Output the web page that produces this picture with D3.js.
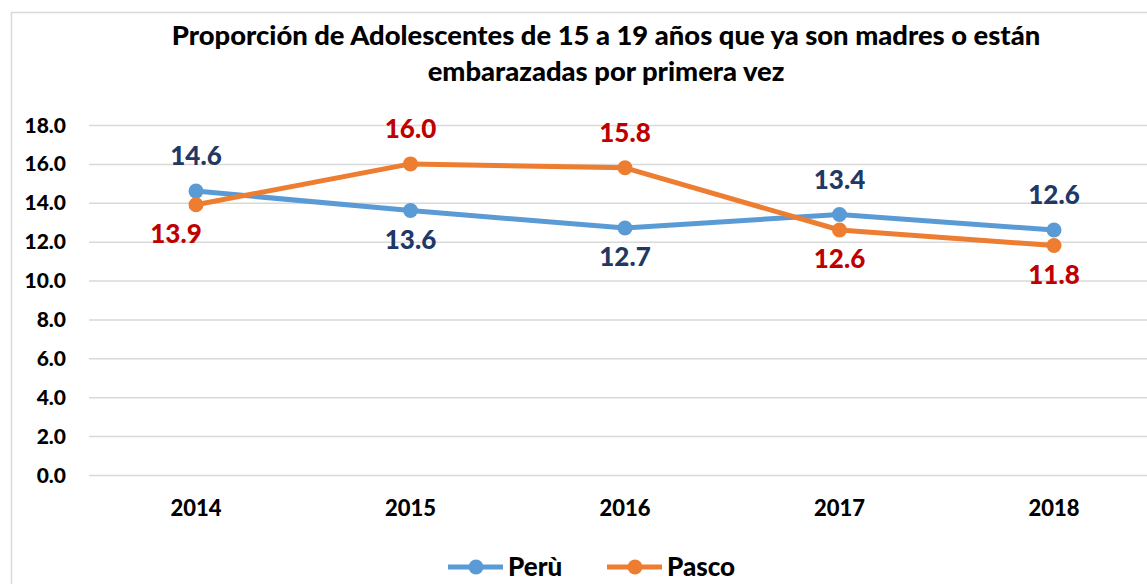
<!DOCTYPE html>
<html>
<head>
<meta charset="utf-8">
<script src="https://cdn.jsdelivr.net/npm/d3@7"></script>
<style>
  body { margin: 0; background: #fff; }
  svg { font-family: Lato, "Open Sans", sans-serif; font-weight: 900; }
  .grid line { stroke: #d9d9d9; stroke-width: 1.5; }
  .grid path { display: none; }
</style>
</head>
<body>
<div id="chart"></div>
<script>
///// Data
let years = ["2014", "2015", "2016", "2017", "2018"];
let peru = [14.6, 13.6, 12.7, 13.4, 12.6];
let pasco = [13.9, 16.0, 15.8, 12.6, 11.8];
let yTicks = [0, 2, 4, 6, 8, 10, 12, 14, 16, 18];
// where each value label sits relative to its point
let peruLabelSide = ["above", "below", "below", "above", "above"];
let pascoLabelSide = ["below", "above", "above", "below", "below"];
let titleLines = [
    "Proporción de Adolescentes de 15 a 19 años que ya son madres o están",
    "embarazadas por primera vez"
];

let width = 1147, height = 584;
let margin = { top: 125, left: 89, bottom: 109 };

let svg = d3.select("#chart").append("svg")
    .attr("width", width)
    .attr("height", height);

// chart border
svg.append("rect")
    .attr("x", 11.5).attr("y", 12.5)
    .attr("width", 1200).attr("height", 600)
    .attr("fill", "none")
    .attr("stroke", "#d9d9d9")
    .attr("stroke-width", 1.5);

// title
svg.selectAll(".title")
    .data(titleLines)
    .enter().append("text")
    .attr("class", "title")
    .attr("x", 606)
    .attr("y", function(d, i) { return 45 + i * 36; })
    .attr("text-anchor", "middle")
    .style("font-size", "27.4px")
    .attr("fill", "#000")
    .text(function(d) { return d; });

// scales
let x = d3.scalePoint().domain(years).range([196, 1054]);
let y = d3.scaleLinear().domain([0, 18]).range([height - margin.bottom, margin.top]);

// gridlines
svg.append("g")
    .attr("class", "grid")
    .attr("transform", "translate(" + margin.left + ",0)")
    .call(d3.axisLeft(y).tickValues(yTicks).tickSize(-(width - margin.left)).tickFormat(""));

// y labels
svg.append("g")
    .selectAll("text")
    .data(yTicks)
    .enter().append("text")
    .attr("x", 66)
    .attr("y", function(d) { return y(d); })
    .attr("dy", "0.36em")
    .attr("text-anchor", "end")
    .style("font-size", "21px")
    .text(function(d) { return d.toFixed(1); });

// x labels
svg.append("g")
    .selectAll("text")
    .data(years)
    .enter().append("text")
    .attr("x", function(d) { return x(d); })
    .attr("y", 508)
    .attr("dy", "0.36em")
    .attr("text-anchor", "middle")
    .style("font-size", "22px")
    .text(function(d) { return d; });

let line = d3.line()
    .x(function(d, i) { return x(years[i]); })
    .y(function(d) { return y(d); });

let series = [
    { name: "Perù", values: peru, color: "#5b9bd5", labelColor: "#1f3864", sides: peruLabelSide },
    { name: "Pasco", values: pasco, color: "#ed7d31", labelColor: "#c00000", sides: pascoLabelSide }
];

series.forEach(function(s) {
    svg.append("path")
        .datum(s.values)
        .attr("fill", "none")
        .attr("stroke", s.color)
        .attr("stroke-width", 5)
        .attr("stroke-linejoin", "round")
        .attr("d", line);

    svg.append("g")
        .selectAll("circle")
        .data(s.values)
        .enter().append("circle")
        .attr("cx", function(d, i) { return x(years[i]); })
        .attr("cy", function(d) { return y(d); })
        .attr("r", 7.5)
        .attr("fill", s.color);
});

series.forEach(function(s) {
    svg.append("g")
        .selectAll("text")
        .data(s.values)
        .enter().append("text")
        .attr("x", function(d, i) {
            // first Pasco label is nudged left in the original
            return x(years[i]) + (s.name === "Pasco" && i === 0 ? -20 : 0);
        })
        .attr("y", function(d, i) { return y(d) + (s.sides[i] === "above" ? -35 : 29); })
        .attr("dy", "0.36em")
        .attr("text-anchor", "middle")
        .style("font-size", "26px")
        .attr("fill", s.labelColor)
        .text(function(d) { return d.toFixed(1); });
});

// legend (kept just inside the bottom edge)
let legendY = 567;
let legend = svg.append("g");
let legendItems = [
    { s: series[0], x: 448 },
    { s: series[1], x: 607 }
];
legendItems.forEach(function(l) {
    legend.append("line")
        .attr("x1", l.x).attr("x2", l.x + 55)
        .attr("y1", legendY).attr("y2", legendY)
        .attr("stroke", l.s.color)
        .attr("stroke-width", 5);
    legend.append("circle")
        .attr("cx", l.x + 28).attr("cy", legendY)
        .attr("r", 7.5)
        .attr("fill", l.s.color);
    legend.append("text")
        .attr("x", l.x + 60).attr("y", legendY)
        .attr("dy", "0.36em")
        .style("font-size", "26px")
        .text(l.s.name);
});
</script>
</body>
</html>
